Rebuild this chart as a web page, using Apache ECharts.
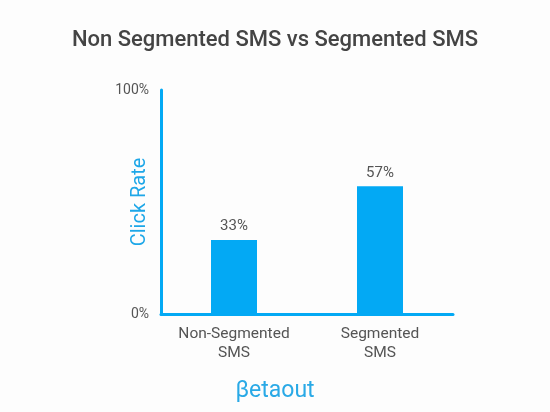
<!DOCTYPE html>
<html lang="en">
<head>
    <meta charset="UTF-8">
    <title>Non Segmented SMS vs Segmented SMS</title>
    <script src="https://cdn.jsdelivr.net/npm/echarts@6/dist/echarts.min.js"></script>
    <style>
        html, body { margin: 0; padding: 0; background: #fdfdfd; }
    </style>
</head>
<body>
<div id="myChart" style="height: 412px;width: 550px;"></div>
<script>
    var categories = ['Non-Segmented\nSMS', 'Segmented\nSMS'];
    var clickRate = [33, 57];
    var yTicks = [0, 100];

    var blue = '#03a9f4';
    var myChart = echarts.init(document.getElementById('myChart'));
    myChart.setOption({
        backgroundColor: '#fdfdfd',
        title: [
            {
                text: 'Non Segmented SMS vs Segmented SMS',
                left: 'center',
                top: 24,
                textStyle: {
                    fontFamily: 'Roboto',
                    fontSize: 22,
                    fontWeight: 500,
                    color: '#444'
                }
            },
            {
                text: 'βetaout',
                left: 'center',
                top: 375,
                textStyle: {
                    fontFamily: 'Roboto',
                    fontSize: 23,
                    fontWeight: 'normal',
                    color: '#29a9e6'
                }
            }
        ],
        grid: {
            left: 161,
            right: 97,
            top: 90,
            bottom: 98
        },
        xAxis: {
            type: 'category',
            data: categories,
            axisLine: { lineStyle: { color: blue, width: 3 } },
            axisTick: { show: false },
            axisLabel: {
                fontFamily: 'Roboto',
                fontSize: 15.5,
                color: '#555',
                lineHeight: 19,
                margin: 11
            }
        },
        yAxis: {
            type: 'value',
            min: yTicks[0],
            max: yTicks[1],
            interval: yTicks[1] - yTicks[0],
            name: 'Click Rate',
            nameLocation: 'middle',
            nameGap: 11,
            nameMoveOverlap: false,
            nameTextStyle: {
                fontFamily: 'Roboto',
                fontSize: 20,
                color: '#1ea7e8'
            },
            axisLine: { show: true, lineStyle: { color: blue, width: 3 } },
            axisTick: { show: false },
            splitLine: { show: false },
            axisLabel: {
                fontFamily: 'Roboto',
                fontSize: 14,
                color: '#555',
                margin: 12,
                formatter: '{value}%'
            }
        },
        series: [
            {
                name: 'Click Rate',
                type: 'bar',
                barWidth: 46,
                data: clickRate,
                itemStyle: { color: blue },
                label: {
                    show: true,
                    position: 'top',
                    distance: 6,
                    fontFamily: 'Roboto',
                    fontSize: 15,
                    color: '#555',
                    formatter: '{c}%'
                }
            }
        ]
    });
</script>
</body>
</html>
